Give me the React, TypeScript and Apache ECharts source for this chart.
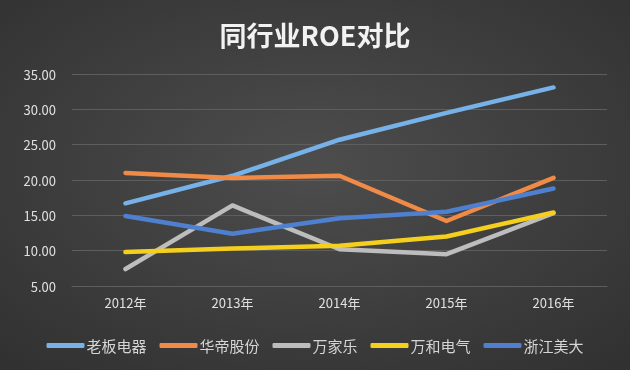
import React, { useEffect, useRef } from "react";
import * as echarts from "echarts";

const years = ["2012年", "2013年", "2014年", "2015年", "2016年"];
const seriesNames = ["老板电器", "华帝股份", "万家乐", "万和电气", "浙江美大"];
const laoban = [16.7, 20.6, 25.7, 29.5, 33.1];
const huadi = [21.0, 20.3, 20.6, 14.2, 20.3];
const wanjiale = [7.4, 16.4, 10.2, 9.5, 15.3];
const wanhe = [9.8, 10.3, 10.7, 12.0, 15.4];
const meida = [14.9, 12.4, 14.6, 15.5, 18.8];
const seriesData = [laoban, huadi, wanjiale, wanhe, meida];
const colors = ["#76b1e8", "#ef8a47", "#bdbdbd", "#f5cf1e", "#4e80cf"];

export default function App() {
  const ref = useRef<HTMLDivElement>(null);
  useEffect(() => {
    const chart = echarts.init(ref.current!, null, { renderer: "svg" });
    chart.setOption({
      animation: false,
      backgroundColor: new echarts.graphic.RadialGradient(0.5, 0.45, 0.75, [
        { offset: 0, color: "#4d4d4d" },
        { offset: 1, color: "#303030" },
      ]),
      color: colors,
      title: {
        text: "同行业ROE对比",
        left: "center",
        top: 16,
        textStyle: {
          color: "#f2f2f2",
          fontSize: 27,
          fontWeight: "bold",
          fontFamily: "Noto Sans CJK SC",
        },
      },
      legend: {
        left: "center",
        top: 333,
        icon: "roundRect",
        itemWidth: 38,
        itemHeight: 5,
        itemGap: 13,
        textStyle: { color: "#d5d5d5", fontSize: 15, fontFamily: "Noto Sans CJK SC", padding: [0, 0, 0, -3] },
        data: seriesNames,
      },
      grid: { left: 72, right: 23, top: 74, bottom: 84, containLabel: false },
      xAxis: {
        type: "category",
        data: years,
        boundaryGap: true,
        axisLine: { show: true, lineStyle: { color: "#5e5e5e" } },
        axisTick: { show: false },
        axisLabel: { color: "#e0e0e0", fontSize: 13, margin: 10, fontFamily: "Noto Sans CJK SC" },
      },
      yAxis: {
        type: "value",
        min: 5,
        max: 35,
        interval: 5,
        axisLine: { show: false },
        axisTick: { show: false },
        axisLabel: {
          color: "#e0e0e0",
          fontSize: 13,
          margin: 16,
          fontFamily: "Noto Sans CJK SC",
          formatter: (v: number) => v.toFixed(2),
        },
        splitLine: { lineStyle: { color: "#5e5e5e", width: 1 } },
      },
      series: seriesNames.map((name, i) => ({
        name,
        type: "line",
        data: seriesData[i],
        showSymbol: false,
        symbol: "none",
        lineStyle: { width: 4.5, cap: "round", join: "round", color: colors[i] },
        itemStyle: { color: colors[i] },
      })),
    });
    return () => chart.dispose();
  }, []);
  return (
    <div
      ref={ref}
      style={{ position: "fixed", left: 0, top: 0, width: 630, height: 370 }}
    />
  );
}
